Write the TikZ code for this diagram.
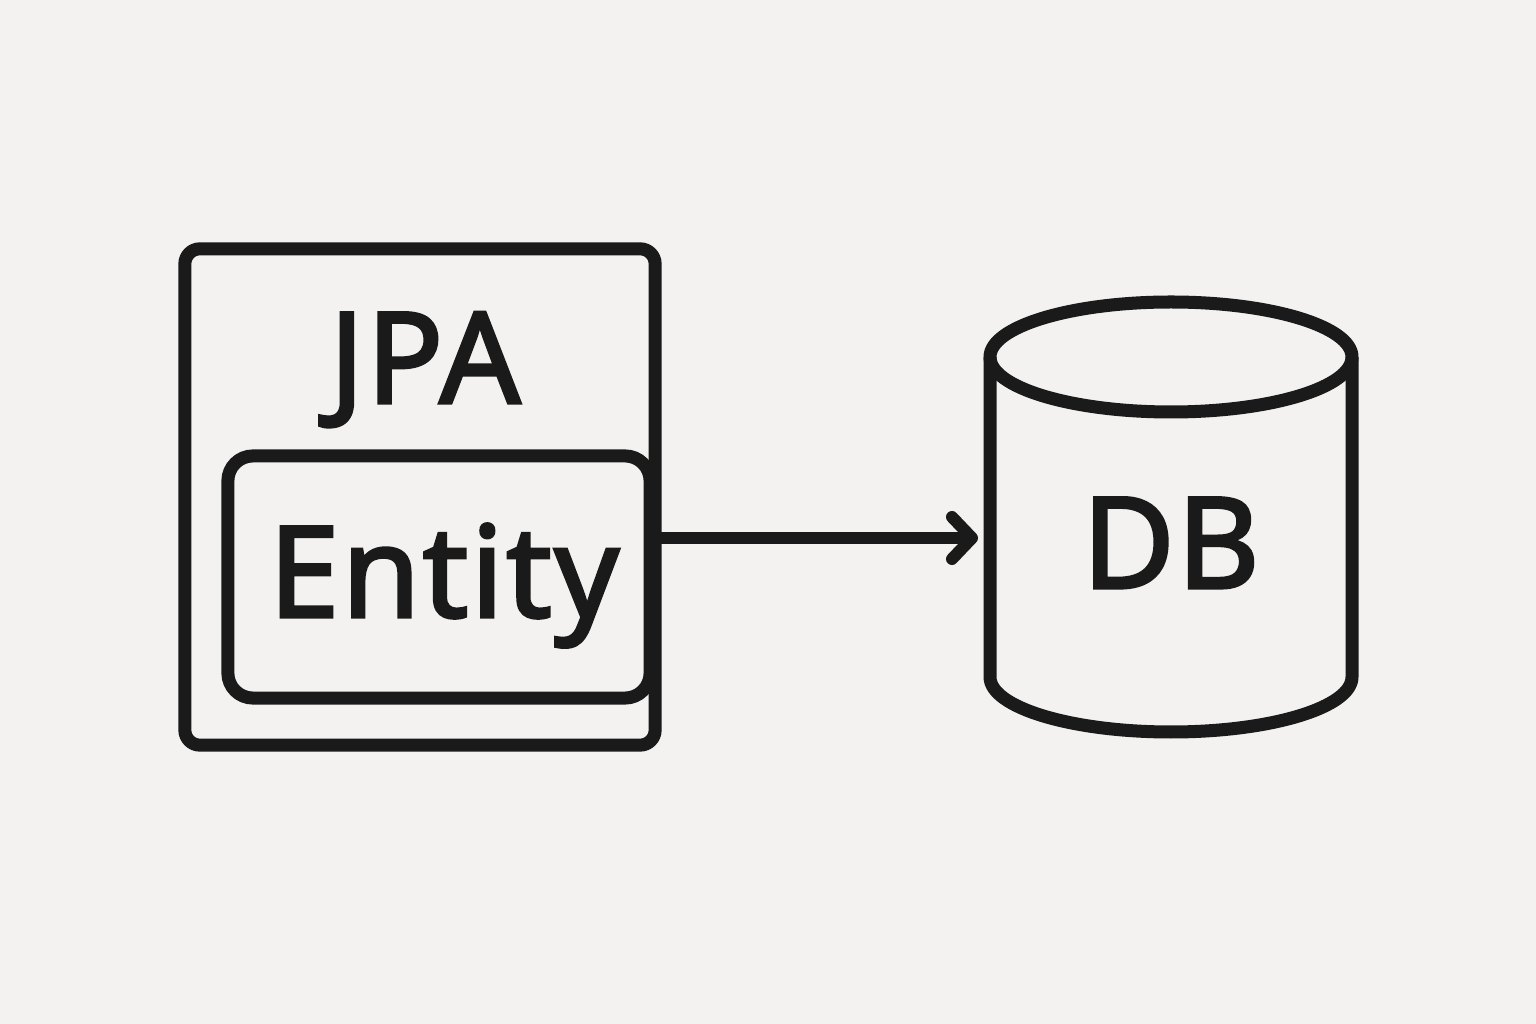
\documentclass[tikz,border=0pt]{standalone}
\usepackage{fontspec}
\setmainfont{Noto Sans}[FakeBold=2.5, LetterSpace=2]
\usetikzlibrary{arrows.meta}
\definecolor{bg}{HTML}{F3F2F0}
\definecolor{ink}{HTML}{1A1A1A}
\tikzset{
  box/.style={draw=ink, line width=0.13cm, rounded corners=0.15cm, inner sep=0pt},
  lbl/.style={text=ink, anchor=base, font=\fontsize{36}{40}\selectfont\bfseries, inner sep=0pt},
  conn/.style={draw=ink, line width=0.12cm, line cap=round,
    -{Straight Barb[length=0.2cm, width=0.42cm, round]}},
  cyl/.style={draw=ink, line width=0.13cm, line join=round}
}
\begin{document}
\begin{tikzpicture}[x=0.01cm, y=0.01cm]
  \fill[bg] (0,0) rectangle (1536,1024);
  \useasboundingbox (0,0) rectangle (1536,1024);
  % JPA container
  \node[box, minimum width=4.7cm, minimum height=4.96cm] (jpa) at (420,527) {};
  \node[lbl] (jpalbl) at (425,621) {JPA};
  % Entity
  \node[box, rounded corners=0.25cm, minimum width=4.22cm, minimum height=2.42cm] (entity) at (439,447) {};
  \node[lbl] (entlbl) at (444,407) {Entity};
  % DB cylinder
  \draw[cyl] (990,667) -- (990,347) arc[start angle=180, end angle=360, x radius=181, y radius=55] -- (1352,667);
  \draw[cyl] (1171,667) ellipse [x radius=181, y radius=55];
  \node[lbl] (dblbl) at (1171,436) {DB};
  \coordinate (dbleft) at (978,486);
  % connector
  \draw[conn] (jpa.east |- dbleft) -- (dbleft);
\end{tikzpicture}
\end{document}
